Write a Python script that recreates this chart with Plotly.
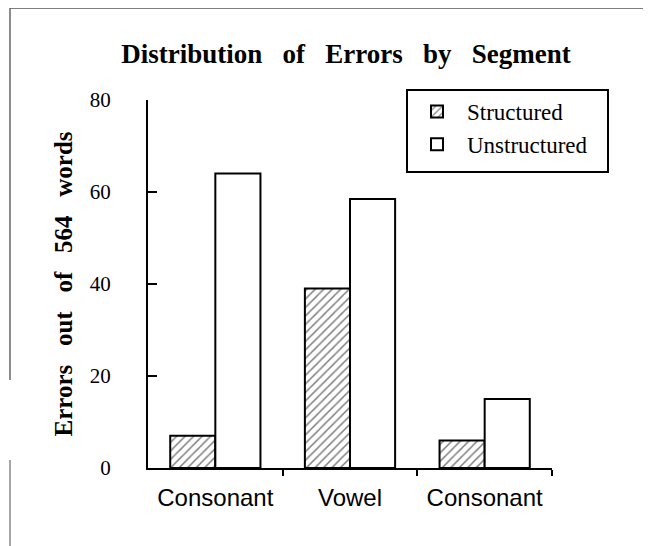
import plotly.graph_objects as go

# ---- data ----
segments = ["Consonant", "Vowel", "Consonant"]
positions = [0, 1, 2]
structured = [7, 39, 6]
unstructured = [64, 58.5, 15]
y_ticks = [0, 20, 40, 60, 80]

W, H = 651, 546
OFF = 8  # page body margin
ML, MT = 148 - OFF, 100 - OFF
pw, ph = 404, 368
MR = W - ML - pw
MB = H - MT - ph

def px(x):
    return (x - OFF - ML) / pw

def py(y):
    return (MT + ph - (y - OFF)) / ph

fig = go.Figure()
fig.add_trace(go.Bar(
    x=positions, y=structured, name="Structured",
    marker=dict(color="white", line=dict(color="black", width=2),
                pattern=dict(shape="/", fgcolor="black", bgcolor="white",
                             size=6, solidity=0.25)),
))
fig.add_trace(go.Bar(
    x=positions, y=unstructured, name="Unstructured",
    marker=dict(color="white", line=dict(color="black", width=2)),
))

serif = "Liberation Serif, Times New Roman, serif"
sans = "Liberation Sans, Arial, sans-serif"
NB = "\u00a0"

fig.update_layout(
    width=W, height=H,
    margin=dict(l=ML, r=MR, t=MT, b=MB, autoexpand=False),
    paper_bgcolor="white", plot_bgcolor="white",
    barmode="group", bargap=0.33, bargroupgap=0,
    showlegend=True,
    title=dict(
        text="<b>" + (NB * 3).join("Distribution of Errors by Segment".split(" ")) + "</b>",
        x=(346 - OFF) / W, xanchor="center", y=1 - (54 - OFF) / H, yanchor="middle",
        font=dict(family=serif, size=27, color="black"),
    ),
    legend=dict(
        x=px(407), y=py(90), xanchor="left", yanchor="top",
        borderwidth=0, bgcolor="rgba(0,0,0,0)",
        font=dict(family=serif, size=23, color="black"),
        itemwidth=50, tracegroupgap=2,
    ),
    xaxis=dict(
        range=[-0.5, 2.5], tickmode="array", tickvals=positions, ticktext=segments,
        ticks="", showline=True, linecolor="black", linewidth=2,
        showgrid=False, zeroline=False, automargin=False,
        ticklabelstandoff=7,
        tickfont=dict(family=sans, size=24, color="black"),
        minor=dict(tickmode="array", tickvals=[0.5, 1.5, 2.5], ticks="outside",
                   ticklen=6, tickwidth=2, tickcolor="black", showgrid=False),
    ),
    yaxis=dict(
        range=[0, 80], tickmode="array", tickvals=y_ticks,
        ticks="inside", ticklen=9, tickwidth=2, tickcolor="black",
        showline=True, linecolor="black", linewidth=2,
        showgrid=False, zeroline=False, automargin=False,
        tickfont=dict(family=serif, size=21, color="black"),
        ticklabelstandoff=31,
        title=dict(
            text="<b>" + (NB * 3).join("Errors out of 564 words".split(" ")) + "</b>",
            font=dict(family=serif, size=25, color="black"), standoff=10,
        ),
    ),
    shapes=[
        dict(type="rect", xref="paper", yref="paper",
             x0=px(407), x1=px(608), y0=py(90), y1=py(172),
             line=dict(color="black", width=2), fillcolor="white", layer="above"),
        dict(type="line", xref="paper", yref="paper",
             x0=px(10), x1=px(660), y0=py(8), y1=py(8),
             line=dict(color="#555555", width=1.5)),
        dict(type="line", xref="paper", yref="paper",
             x0=px(10), x1=px(10), y0=py(8), y1=py(380),
             line=dict(color="#666666", width=1.5)),
        dict(type="line", xref="paper", yref="paper",
             x0=px(10), x1=px(10), y0=py(460), y1=py(560),
             line=dict(color="#888888", width=1.5)),
    ],
)

fig.write_html("out.html")
